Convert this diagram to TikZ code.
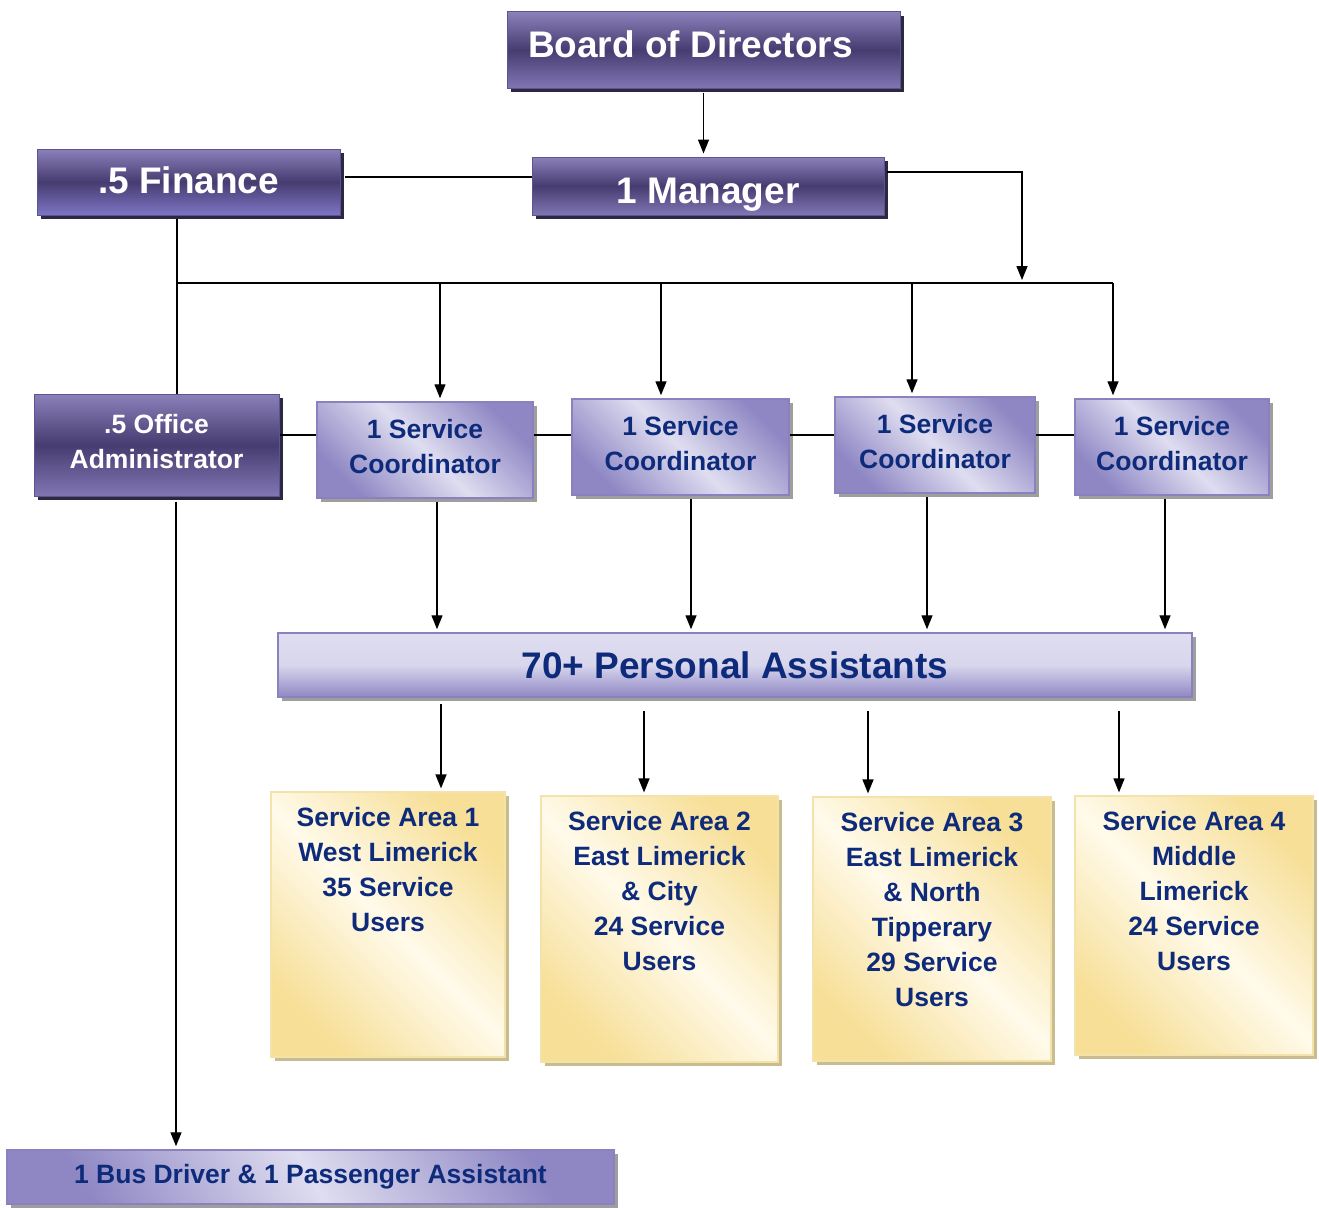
\documentclass[tikz,border=0pt]{standalone}
\usepackage{fontspec}
\setmainfont{Liberation Sans}
\usetikzlibrary{arrows.meta,shadows}
\definecolor{dkTop}{HTML}{8B80BA}
\definecolor{dkMid}{HTML}{473C70}
\definecolor{dkBot}{HTML}{8176B3}
\definecolor{finBot}{HTML}{7D75C5}
\definecolor{dkBorder}{HTML}{5C5391}
\definecolor{dkShadow}{HTML}{2C283F}
\definecolor{ltDark}{HTML}{8E87C4}
\definecolor{ltLight}{HTML}{DFDDF0}
\definecolor{ltBorder}{HTML}{8982BF}
\definecolor{ltShadow}{HTML}{9E9E9E}
\definecolor{yDark}{HTML}{F7DF97}
\definecolor{yLight}{HTML}{FFFAEA}
\definecolor{yBorder}{HTML}{F3E3AA}
\definecolor{yShadow}{HTML}{C9BC8E}
\definecolor{navy}{HTML}{0E2B7B}
\begin{document}
\begin{tikzpicture}[x=1pt,y=-1pt,
  darkbox/.style={draw=dkBorder, line width=1pt, top color=dkTop, bottom color=dkBot, middle color=dkMid,
    text=white, inner sep=0pt,
    general shadow={fill=dkShadow, shadow xshift=4pt, shadow yshift=-4pt}},
  bigfont/.style={font=\bfseries\fontsize{37}{40}\selectfont},
  midfont/.style={font=\bfseries\fontsize{26.5}{35}\selectfont, align=center},
  ltbox/.style={draw=ltBorder, line width=1.5pt, left color=ltDark, right color=ltDark, middle color=ltLight,
    shading angle=135, text=navy, inner sep=0pt,
    general shadow={fill=ltShadow, shadow xshift=4pt, shadow yshift=-4pt}},
  ybox/.style={draw=yBorder, line width=1.2pt, left color=yDark, right color=yDark, middle color=yLight,
    shading angle=135, inner sep=0pt,
    general shadow={fill=yShadow, shadow xshift=4pt, shadow yshift=-4pt}},
  ytext/.style={anchor=north, yshift=-16pt, inner sep=0pt, text=navy, align=center,
    font=\bfseries\fontsize{26.5}{35}\selectfont},
  conn/.style={line width=1.4pt, black},
  arr/.style={conn, -{Triangle[length=14pt,width=11pt]}, shorten >=3pt}
]
\useasboundingbox (0,0) rectangle (1319,1207);

% top boxes
\node[darkbox, bigfont, minimum width=393pt, minimum height=76pt, text height=27pt, text depth=13pt] (B) at (703.5,50) {Board of Directors\hspace*{26pt}};
\node[darkbox, bigfont, minimum width=352pt, minimum height=58pt, text height=34pt, text depth=0pt] (M) at (708,186) {1 Manager};
\node[darkbox, bigfont, bottom color=finBot, middle color=dkMid, minimum width=303pt, minimum height=66pt, text height=27pt, text depth=4pt] (F) at (188.5,182) {.5 Finance};
\node[darkbox, midfont, text depth=8pt, minimum width=245pt, minimum height=102pt] (A) at (156.5,445) {.5 Office\\Administrator};

% coordinators
\node[ltbox, midfont, text depth=8pt, minimum width=216pt, minimum height=96pt] (C1) at (425,450) {1 Service\\Coordinator};
\node[ltbox, midfont, text depth=8pt, minimum width=217pt, minimum height=96pt] (C2) at (680.5,447) {1 Service\\Coordinator};
\node[ltbox, midfont, text depth=8pt, minimum width=200pt, minimum height=96pt] (C3) at (935,445) {1 Service\\Coordinator};
\node[ltbox, midfont, text depth=8pt, minimum width=194pt, minimum height=96pt] (C4) at (1172,447) {1 Service\\Coordinator};

% personal assistants
\node[ltbox, bigfont, top color=ltLight, bottom color=ltDark, middle color=ltLight!92!ltDark, minimum width=914pt, minimum height=64pt] (PA) at (735,665) {70+ Personal Assistants};

% service areas
\node[ybox, minimum width=234pt, minimum height=265pt, label={[ytext]north:Service Area 1\\West Limerick\\35 Service\\Users}] (Y1) at (388,924.5) {};
\node[ybox, minimum width=237pt, minimum height=266pt, label={[ytext]north:Service Area 2\\East Limerick\\\& City\\24 Service\\Users}] (Y2) at (659.5,929) {};
\node[ybox, minimum width=238pt, minimum height=264pt, label={[ytext]north:Service Area 3\\East Limerick\\\& North\\Tipperary\\29 Service\\Users}] (Y3) at (932,929) {};
\node[ybox, minimum width=238pt, minimum height=259pt, label={[ytext]north:Service Area 4\\Middle\\Limerick\\24 Service\\Users}] (Y4) at (1194,925.5) {};

% bus
\node[ltbox, midfont, shading angle=120, minimum width=607pt, minimum height=54pt] (Bus) at (310.5,1177) {1 Bus Driver \& 1 Passenger Assistant};

% connectors
\coordinate (mr) at (1022,172);
\coordinate (hl) at (177,283);
\coordinate (hr) at (1113,283);
\draw[arr] (B.south) ++(0,4) -- (B.south |- M.north);
\draw[conn] (F.east |- 0,177) ++(4,0) -- (M.west |- 0,177);
\draw[arr] (M.east |- mr) ++(2,0) -- (mr) -- (mr |- hl);
\draw[conn] (hl) -- (hr);
\draw[arr] (hr) -- (hr |- C4.north);
\draw[arr] (hl -| 440,0) -- (C1.north -| 440,0);
\draw[arr] (hl -| 661,0) -- (C2.north -| 661,0);
\draw[arr] (hl -| 912,0) -- (C3.north -| 912,0);
\draw[conn] (F.south -| hl) ++(0,3) -- (A.north -| hl);
\draw[conn] (A.east |- 0,435) -- (C1.west |- 0,435);
\draw[conn] (C1.east |- 0,435) -- (C2.west |- 0,435);
\draw[conn] (C2.east |- 0,435) -- (C3.west |- 0,435);
\draw[conn] (C3.east |- 0,435) -- (C4.west |- 0,435);
\draw[arr] (C1.south -| 437,0) ++(0,3) -- (PA.north -| 437,0);
\draw[arr] (C2.south -| 691,0) ++(0,3) -- (PA.north -| 691,0);
\draw[arr] (C3.south -| 927,0) ++(0,3) -- (PA.north -| 927,0);
\draw[arr] (C4.south -| 1165,0) ++(0,3) -- (PA.north -| 1165,0);
\draw[arr] (PA.south -| 441,0) ++(0,6) -- (Y1.north -| 441,0);
\draw[arr] (PA.south -| 644,0) ++(0,13) -- (Y2.north -| 644,0);
\draw[arr] (PA.south -| 868,0) ++(0,13) -- (Y3.north -| 868,0);
\draw[arr] (PA.south -| 1119,0) ++(0,13) -- (Y4.north -| 1119,0);
\draw[arr] (A.south -| 176,0) ++(0,5) -- (Bus.north -| 176,0);
\end{tikzpicture}
\end{document}
